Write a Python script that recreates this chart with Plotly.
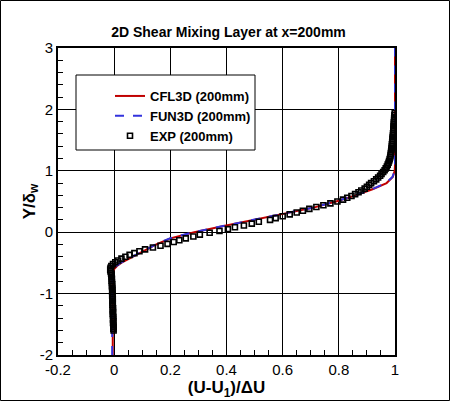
import plotly.graph_objects as go

# CFD profiles (x = (U-U1)/dU, y = Y/delta_w)
cfl3d_y = [-2.0, -0.65, -0.6, -0.55, -0.5, -0.45, -0.4, -0.3, -0.2, -0.1, 0.0, 0.1,
           0.2, 0.3, 0.4, 0.5, 0.6, 0.7, 0.8, 0.9, 1.0, 1.1, 3.0]
cfl3d_x = [-0.005, -0.005, 0.0, 0.01, 0.025, 0.045, 0.07, 0.11, 0.15, 0.20, 0.285, 0.39,
           0.50, 0.61, 0.71, 0.79, 0.86, 0.92, 0.97, 0.992, 0.999, 1.0, 1.0]
fun3d_y = [-2.0, -0.65, -0.6, -0.55, -0.5, -0.45, -0.4, -0.3, -0.2, -0.1, 0.0, 0.1,
           0.2, 0.3, 0.4, 0.5, 0.6, 0.7, 0.8, 0.9, 1.0, 1.1, 3.0]
fun3d_x = [-0.007, -0.007, -0.002, 0.008, 0.022, 0.043, 0.068, 0.108, 0.148, 0.198, 0.283, 0.388,
           0.498, 0.608, 0.708, 0.788, 0.858, 0.918, 0.968, 0.991, 0.999, 1.0, 1.0]

# experiment
exp_y = [-1.60, -1.57, -1.54, -1.51, -1.48, -1.45, -1.42, -1.39, -1.36, -1.33,
         -1.30, -1.27, -1.24, -1.21, -1.18, -1.15, -1.12, -1.09, -1.06, -1.03,
         -1.00, -0.97, -0.94, -0.91, -0.88, -0.85, -0.82, -0.79, -0.76, -0.73,
         -0.70, -0.67, -0.64, -0.61, -0.58, -0.55, -0.52, -0.49, -0.46, -0.43,
         -0.40, -0.37, -0.34, -0.31, -0.28, -0.25, -0.22, -0.19, -0.16, -0.13,
         -0.10, -0.07, -0.04, -0.01, 0.02, 0.05, 0.08, 0.11, 0.14, 0.17,
         0.20, 0.23, 0.26, 0.29, 0.32, 0.35, 0.38, 0.41, 0.44, 0.47,
         0.50, 0.53, 0.56, 0.59, 0.62, 0.65, 0.68, 0.71, 0.74, 0.77,
         0.80, 0.83, 0.86, 0.89, 0.92, 0.95, 0.98, 1.01, 1.04, 1.07,
         1.10, 1.13, 1.16, 1.19, 1.22, 1.25, 1.28, 1.31, 1.34, 1.37,
         1.40, 1.43, 1.46, 1.49, 1.52, 1.55, 1.58, 1.61, 1.64, 1.67,
         1.70, 1.73, 1.76, 1.79, 1.82, 1.85, 1.88, 1.91, 1.94]
exp_x = [-0.002, -0.003, -0.002, -0.003, -0.004, -0.003, -0.004, -0.003, -0.004, -0.005,
         -0.004, -0.005, -0.004, -0.005, -0.006, -0.005, -0.006, -0.005, -0.006, -0.007,
         -0.006, -0.007, -0.006, -0.007, -0.008, -0.007, -0.008, -0.009, -0.008, -0.009,
         -0.010, -0.011, -0.013, -0.014, -0.013, -0.010, -0.004, 0.004, 0.014, 0.026,
         0.040, 0.055, 0.072, 0.090, 0.110, 0.138, 0.165, 0.190, 0.212, 0.232,
         0.255, 0.282, 0.305, 0.340, 0.375, 0.405, 0.430, 0.462, 0.490, 0.515,
         0.555, 0.575, 0.600, 0.625, 0.650, 0.672, 0.695, 0.720, 0.745, 0.770,
         0.795, 0.815, 0.830, 0.845, 0.858, 0.870, 0.880, 0.892, 0.900, 0.908,
         0.915, 0.925, 0.933, 0.940, 0.947, 0.952, 0.958, 0.963, 0.967, 0.971,
         0.974, 0.977, 0.979, 0.981, 0.983, 0.984, 0.985, 0.986, 0.987, 0.988,
         0.989, 0.989, 0.990, 0.991, 0.991, 0.992, 0.993, 0.993, 0.994, 0.994,
         0.995, 0.995, 0.996, 0.996, 0.997, 0.997, 0.998, 0.998, 0.999]

x_ticks = [-0.2, 0, 0.2, 0.4, 0.6, 0.8, 1]
x_labels = ["-0.2", "0", "0.2", "0.4", "0.6", "0.8", "1"]
y_ticks = [-2, -1, 0, 1, 2, 3]
y_labels = ["-2", "-1", "0", "1", "2", "3"]

W, H = 450, 401
ml, mr, mt, mb = 58, 55, 48, 46
pw, ph = W - ml - mr, H - mt - mb
FONT = 'Liberation Sans, Arial'

def px(x):  # figure pixel -> paper x
  return (x - ml) / pw

def py(y):  # figure pixel (from top) -> paper y
  return 1 - (y - mt) / ph

fig = go.Figure()
fig.add_trace(go.Scatter(
  x=cfl3d_x, y=cfl3d_y, mode='lines', name='CFL3D (200mm)',
  line=dict(color='#c00000', width=2)
))
fig.add_trace(go.Scatter(
  x=fun3d_x, y=fun3d_y, mode='lines', name='FUN3D (200mm)',
  line=dict(color='#3333dd', width=2, dash='dash')
))
fig.add_trace(go.Scatter(
  x=exp_x, y=exp_y, mode='markers', name='EXP (200mm)',
  marker=dict(symbol='square-open', size=5, color='black', line=dict(width=1.6, color='black'))
))

axis_common = dict(
  showgrid=True, gridcolor='black', gridwidth=1,
  showline=True, linecolor='black', linewidth=2, mirror=True,
  ticks='inside', ticklen=8, tickwidth=1, tickcolor='black',
  zeroline=False,
  tickfont=dict(family=FONT, size=15, color='black'),
)

fig.update_xaxes(
  range=[-0.2, 1], tickvals=x_ticks, ticktext=x_labels,
  minor=dict(dtick=0.05, tick0=0, ticks='inside', ticklen=5, tickcolor='black', showgrid=False),
  title=dict(text='<b>(U-U<sub>1</sub>)/ΔU</b>', standoff=0,
             font=dict(family=FONT, size=17, color='black')),
  **axis_common
)
fig.update_yaxes(
  range=[-2, 3], tickvals=y_ticks, ticktext=y_labels,
  minor=dict(dtick=0.2, tick0=0, ticks='inside', ticklen=5, tickcolor='black', showgrid=False),
  title=dict(text='<b>Y/δ<sub>w</sub></b>', standoff=0,
             font=dict(family=FONT, size=17, color='black')),
  **axis_common
)

# legend frame and outer border
fig.add_shape(type='rect', xref='paper', yref='paper',
              x0=px(76), x1=px(255), y0=py(150), y1=py(75),
              fillcolor='white', line=dict(color='black', width=1), layer='above')
fig.add_shape(type='rect', xref='paper', yref='paper',
              x0=px(0.5), x1=px(449.5), y0=py(400.5), y1=py(0.5),
              line=dict(color='black', width=1))

fig.update_layout(
  width=W, height=H,
  margin=dict(l=ml, r=mr, t=mt, b=mb, pad=0),
  paper_bgcolor='white', plot_bgcolor='white',
  title=dict(text='2D Shear Mixing Layer at x=200mm', x=px(228.5), xref='paper',
             y=1 - 32 / H, yref='container', xanchor='center', yanchor='middle',
             font=dict(family=FONT, size=14, color='black', weight='bold')),
  legend=dict(x=px(110), y=py(116), xanchor='left', yanchor='middle',
              bgcolor='rgba(0,0,0,0)', borderwidth=0, tracegroupgap=0,
              font=dict(family=FONT, size=13, color='black', weight='bold')),
  showlegend=True,
)

# page body has a default margin; drop it so the figure sits at the window corner
fig.write_html("out.html", config={'displayModeBar': False},
               post_script="document.body.style.margin='0';")
